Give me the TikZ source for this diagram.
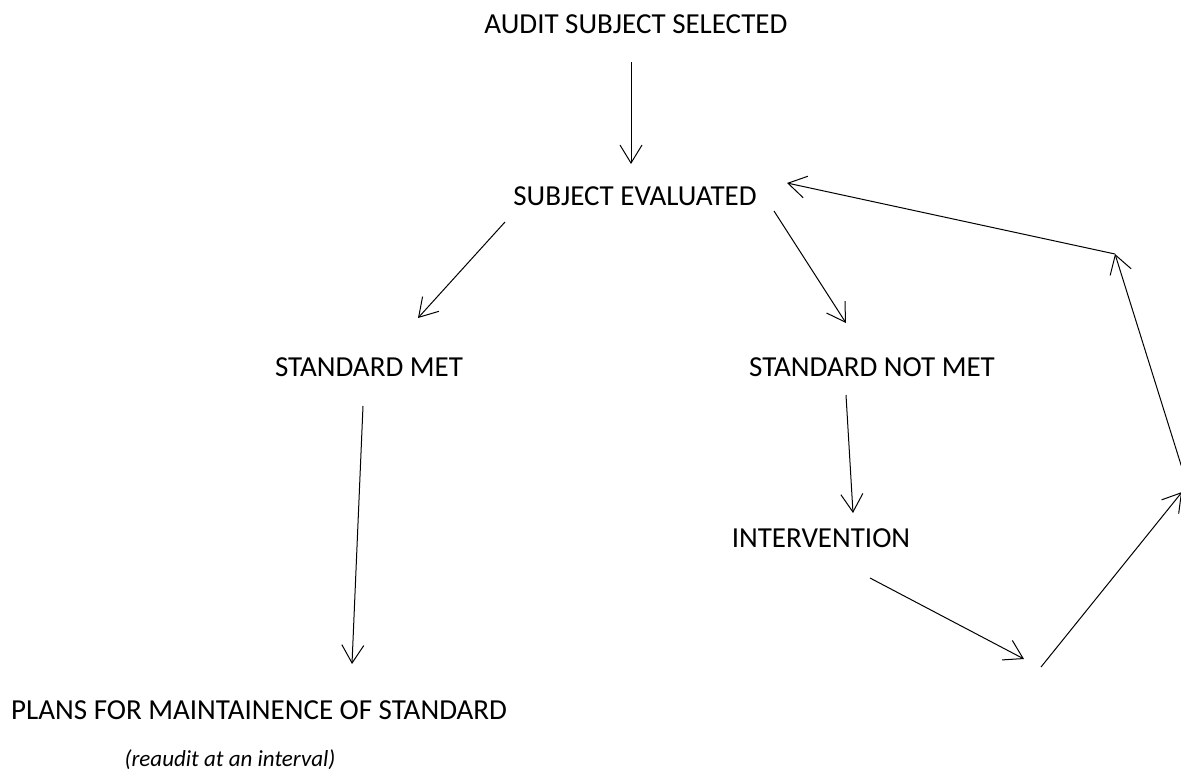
\documentclass[tikz,border=0pt]{standalone}
\usepackage{fontspec}
\setmainfont{Carlito}
\usetikzlibrary{arrows.meta}
\begin{document}
\begin{tikzpicture}[x=1pt,y=-1pt,
  lbl/.style={inner sep=0pt,anchor=base,font=\fontsize{29}{34}\selectfont},
  note/.style={inner sep=0pt,anchor=base,font=\fontsize{23}{28}\selectfont\itshape},
  conn/.style={line width=1pt,-{Straight Barb[length=18pt,width=22pt,line width=1pt]}}]
\useasboundingbox (0,0) rectangle (1181,777);
\node[lbl] (audit) at (636,33) {AUDIT SUBJECT SELECTED};
\node[lbl] (eval) at (635,205) {SUBJECT EVALUATED};
\node[lbl] (met) at (369,376) {STANDARD MET};
\node[lbl] (notmet) at (872,376) {STANDARD NOT MET};
\node[lbl] (interv) at (821,547) {INTERVENTION};
\node[lbl,anchor=base west] (plans) at (11,719) {PLANS FOR MAINTAINENCE OF STANDARD};
\node[note] (reaudit) at (230,766) {(reaudit at an interval)};
% connector end points
\coordinate (a1) at (631,62);  \coordinate (a2) at (631,164);
\coordinate (b1) at (505,222); \coordinate (b2) at (418,318);
\coordinate (c1) at (774,211); \coordinate (c2) at (846,323);
\coordinate (d1) at (363,406); \coordinate (d2) at (352,664);
\coordinate (e1) at (846,395); \coordinate (e2) at (853,513);
\coordinate (f1) at (870,578); \coordinate (f2) at (1024,659);
\coordinate (g1) at (1041,667); \coordinate (g2) at (1182,492);
\coordinate (h1) at (1182,468); \coordinate (h2) at (1115,254);
\coordinate (i1) at (1115,254); \coordinate (i2) at (787,183);
\draw[conn] (a1) -- (a2);
\draw[conn] (b1) -- (b2);
\draw[conn] (c1) -- (c2);
\draw[conn] (d1) -- (d2);
\draw[conn] (e1) -- (e2);
\draw[conn] (f1) -- (f2);
\draw[conn] (g1) -- (g2);
\draw[conn] (h1) -- (h2);
\draw[conn] (i1) -- (i2);
\end{tikzpicture}
\end{document}
